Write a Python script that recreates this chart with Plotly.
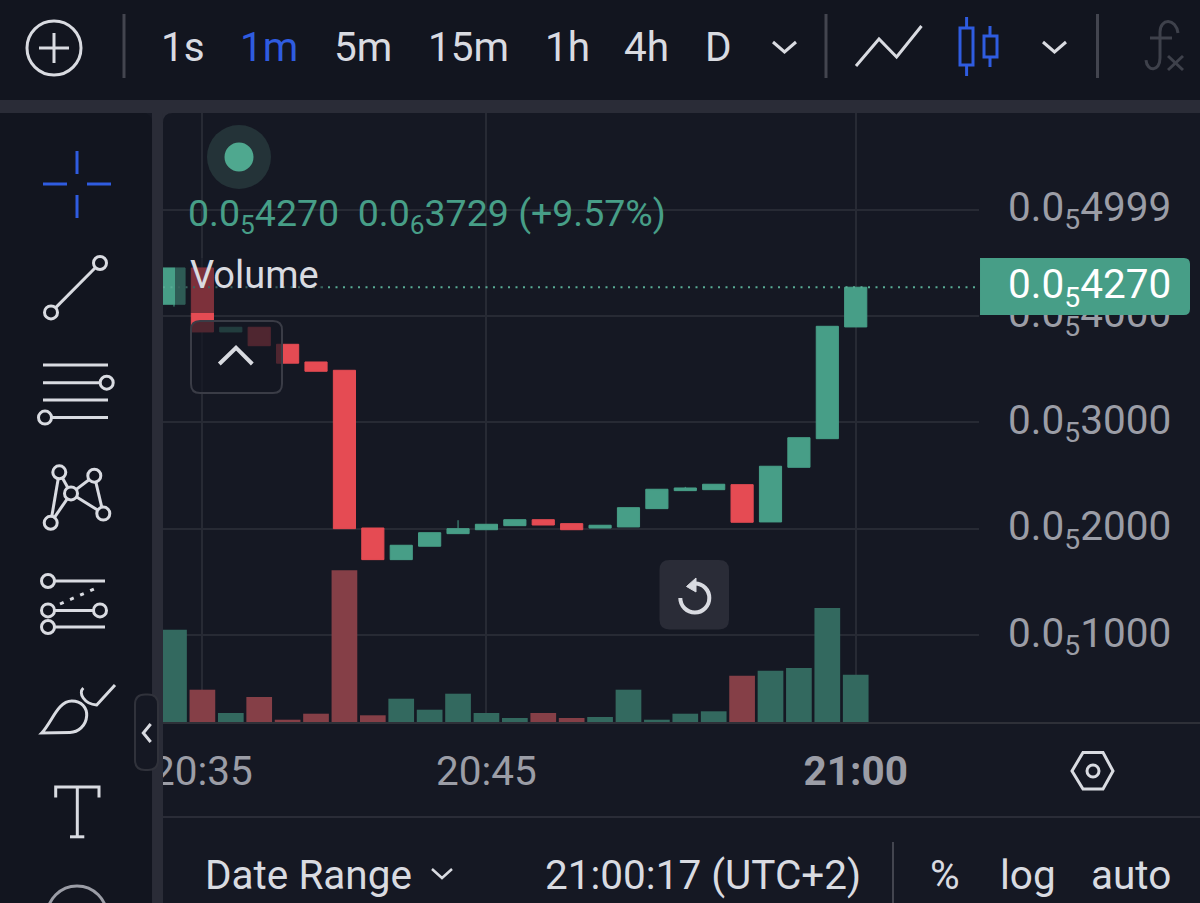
import plotly.graph_objects as go

# ---- data ----
bar_index = list(range(25))
opens  = [4110,4451,3850,3894,3734,3568,3490,2009,1712,1838,1956,1993,2031,2087,2050,2009,2019,2191,2360,2369,2416,2066,2579,2848,3897]
highs  = [4451,4451,3894,3894,3734,3568,3490,2009,1847,1965,2082,2044,2087,2087,2050,2035,2200,2373,2395,2420,2416,2589,2857,3903,4270]
lows   = [4088,3850,3850,3721,3557,3481,2003,1712,1712,1838,1956,1993,2031,2037,1993,2009,2019,2191,2360,2369,2063,2066,2579,2848,3897]
closes = [4451,3850,3894,3721,3557,3481,2003,1712,1847,1965,2003,2044,2087,2037,1993,2035,2200,2373,2385,2420,2063,2589,2857,3903,4270]
volumes = [93.3,33.3,10,26,3.3,9.3,152.7,7.7,24.3,13.3,29.3,10,5,10,5,6,33.3,3.3,9.3,11.7,47.3,52.3,55,115,48.3]
time_ticks = [1, 11, 24]
time_labels = ["20:35", "20:45", "<b>21:00</b>"]
price_ticks = [1000, 2000, 3000, 4000, 4999]
price_labels = ["0.0<sub>5</sub>1000", "0.0<sub>5</sub>2000", "0.0<sub>5</sub>3000", "0.0<sub>5</sub>4000", "0.0<sub>5</sub>4999"]
toolbar_items = [("1s",183),("1m",269),("5m",363),("15m",468),("1h",567),("4h",646),("D",718)]

# ---- style ----
W, H = 1200, 903
PANEL = "#151823"; BAR = "#12151f"; GAP = "#2a2c37"; GRID = "#272a34"
GREEN = "#479e87"; RED = "#e54b53"; VGREEN = "#33695f"; VRED = "#853f47"
TEXT = "#d9dbe1"; MUTED = "#9b9da6"; BLUE = "#2f5ce0"; SEP = "#43454f"; FONT = "Roboto"
FS = 40.5
X_RANGE = [-0.387, 28.34]

def px(x): return x / W
def py(y): return 1 - y / H
shapes, annotations = [], []

def path(points, color=TEXT, width=3, close=False, fill=None):
    d = "M" + " L".join(f"{px(x):.5f},{py(y):.5f}" for x, y in points) + (" Z" if close else "")
    shapes.append(dict(type="path", path=d, xref="paper", yref="paper", layer="above",
                       line=dict(color=color, width=width), fillcolor=fill or "rgba(0,0,0,0)"))

def curve(d_tokens, color=TEXT, width=3, fill=None):
    out = []
    for tok in d_tokens:
        if isinstance(tok, str):
            out.append(tok)
        else:
            out.append(f"{px(tok[0]):.5f},{py(tok[1]):.5f}")
    shapes.append(dict(type="path", path=" ".join(out), xref="paper", yref="paper", layer="above",
                       line=dict(color=color, width=width), fillcolor=fill or "rgba(0,0,0,0)"))

def rect(x0, y0, x1, y1, fill, line=None, width=0):
    shapes.append(dict(type="rect", xref="paper", yref="paper", layer="above", x0=px(x0), x1=px(x1),
                       y0=py(y1), y1=py(y0), fillcolor=fill, line=dict(color=line or fill, width=width)))

def rrect(x0, y0, x1, y1, r, fill, line=None, width=0):
    curve(["M", (x0 + r, y0), "L", (x1 - r, y0), "Q", (x1, y0), (x1, y0 + r), "L", (x1, y1 - r), "Q", (x1, y1), (x1 - r, y1),
           "L", (x0 + r, y1), "Q", (x0, y1), (x0, y1 - r), "L", (x0, y0 + r), "Q", (x0, y0), (x0 + r, y0), "Z"],
          color=line or "rgba(0,0,0,0)", width=width, fill=fill)

def circle(cx, cy, r, color=TEXT, width=3, fill=None):
    shapes.append(dict(type="circle", xref="paper", yref="paper", layer="above", x0=px(cx - r), x1=px(cx + r),
                       y0=py(cy + r), y1=py(cy - r), line=dict(color=color, width=width),
                       fillcolor=fill or "rgba(0,0,0,0)"))

def text(s, x, y, size=FS, color=TEXT, anchor="center"):
    annotations.append(dict(text=s, x=px(x), y=py(y), xref="paper", yref="paper", showarrow=False,
                            xanchor=anchor, yanchor="middle", font=dict(family=FONT, size=size, color=color)))

def node(cx, cy, r=6.5):
    circle(cx, cy, r, fill=BAR)

# ---- chart overlays ----
rect(175, 258, 322, 313, "rgba(21,24,35,0.5)")
rrect(191, 321, 282, 393, 9, "rgba(21,24,35,0.72)", "#3a3c46", 2)
path([(219.3, 364), (236, 347.7), (252.3, 364)], width=4)
rrect(659.5, 560, 729, 629.5, 10, GAP)
curve(["M", (695, 583.5), "C", (703, 583.5), (709.3, 590), (709.3, 598), "C", (709.3, 606), (703, 612.5), (694.8, 612.5),
       "C", (686.8, 612.5), (680.3, 606), (680.3, 598)], width=4)
path([(686.5, 586.5), (696, 578), (696, 592)], color=TEXT, width=1, close=True, fill=TEXT)
circle(239, 157, 32, color="#243338", width=0, fill="#243338")
circle(239, 157, 14.5, color=GREEN, width=0, fill="#4fa88f")
text("0.0<sub>5</sub>4270  0.0<sub>6</sub>3729 (+9.57%)", 185.5, 215, 37.5, GREEN, "left")
text("Volume", 187.5, 275, 38, TEXT, "left")

# ---- last price tag ----
curve(["M", (980, 258), "L", (1184, 258), "Q", (1190, 258), (1190, 264), "L", (1190, 309), "Q", (1190, 315), (1184, 315),
       "L", (980, 315), "Z"], color=GREEN, width=0, fill=GREEN)
text(f"0.0<sub>5</sub>{closes[-1]}", 1172.5, 287, FS, "#ffffff", "right")

# ---- chrome: top bar ----
rect(0, 0, 1200, 100, BAR)
rect(0, 100, 1200, 113, GAP)
circle(54, 48, 27, width=3)
path([(39, 48), (69, 48)]); path([(54, 33), (54, 63)])
for sx in (124, 826, 1097.5):
    path([(sx, 14), (sx, 78)], color=SEP)
for label, cx in toolbar_items:
    text(label, cx, 47, FS, BLUE if label == "1m" else TEXT)
path([(773, 42), (784.5, 52), (796, 42)])
path([(856, 66), (879, 39), (896.6, 57), (921.5, 26)], width=3)
path([(966.6, 17), (966.6, 28)], color=BLUE); path([(966.6, 65), (966.6, 76)], color=BLUE)
rect(960, 28, 973, 65, "rgba(0,0,0,0)", BLUE, 3)
path([(990, 26), (990, 36)], color=BLUE); path([(990, 57), (990, 67)], color=BLUE)
rect(984, 36, 997, 57, "rgba(0,0,0,0)", BLUE, 3)
path([(1043, 42), (1054.5, 52), (1066, 42)])
curve(["M", (1178, 33), "C", (1176, 18), (1160, 18), (1160, 32), "L", (1160, 58), "C", (1160, 72), (1147, 72), (1146, 60)], color="#3e414b")
path([(1150, 38), (1172, 38)], color="#3e414b")
path([(1168, 56), (1183, 70)], color="#3e414b"); path([(1183, 56), (1168, 70)], color="#3e414b")

# ---- chrome: left tool panel ----
rect(152, 113, 163, 903, GAP)
curve(["M", (0, 113), "L", (142, 113), "Q", (152, 113), (152, 123), "L", (152, 903), "L", (0, 903), "Z"], color=BAR, width=0, fill=BAR)
curve(["M", (163, 113), "L", (173, 113), "Q", (163, 113), (163, 123), "Z"], color=GAP, width=0, fill=GAP)
path([(77, 151), (77, 174)], color=BLUE); path([(77, 195), (77, 218)], color=BLUE)
path([(43, 184), (67, 184)], color=BLUE); path([(87, 184), (111, 184)], color=BLUE)
path([(51, 312.4), (100, 263)]); node(100, 263); node(51, 312.4)
for yy, x0 in ((365, 43), (382.7, 43), (400, 43), (417.6, 45)):
    path([(x0, yy), (108 if yy != 382.7 else 100, yy)])
node(106.7, 382.7); node(45, 417.6)
c1, c2, c3, c4, c5 = (59.3, 472.3), (94.3, 475.7), (71, 493.4), (103.3, 513.6), (50.7, 522.8)
for a, b in ((c5, c1), (c1, c3), (c3, c5), (c3, c2), (c2, c4), (c3, c4)):
    path([a, b])
for c in (c1, c2, c3, c4, c5):
    node(*c)
path([(48, 581), (105, 581)]); path([(48, 610.4), (100, 610.4)]); path([(48, 627), (105, 627)])
shapes.append(dict(type="line", xref="paper", yref="paper", layer="above", x0=px(60), y0=py(604), x1=px(100), y1=py(586.4),
                   line=dict(color=TEXT, width=3, dash="4px,7px")))
node(48, 581); node(48, 610.4); node(100, 610.4); node(48, 627)
curve(["M", (41.7, 733), "C", (52, 722), (58, 701), (71.7, 701), "C", (82, 701), (87, 708), (86.7, 715.6),
       "C", (86, 726), (78, 732.4), (70, 732.4), "Z"])
curve(["M", (83.3, 688), "C", (78, 693), (84, 704), (96.7, 705), "L", (115, 685)])
path([(55.7, 797.6), (55.7, 787), (99, 787), (99, 797.6)])
path([(77.3, 787), (77.3, 836.8)]); path([(70, 836.8), (84.3, 836.8)])
circle(77, 916, 30, color=MUTED)
rrect(135, 694.5, 158, 770, 10, PANEL, "#30323b", 2)
path([(150.7, 724), (143.3, 733), (150.7, 742)])

# ---- chrome: bottom ----
rect(163, 722, 1200, 724, "#2e3038")
rect(163, 816, 1200, 818, GAP)
path([(1083, 752.5), (1103, 752.5), (1113, 771), (1103, 789), (1083, 789), (1072, 771)], close=True)
circle(1093, 771, 6)
path([(432, 869), (442, 878), (452, 869)], width=2.5)
path([(893, 842), (893, 903)], color=SEP, width=2)
text("Date Range", 203, 875, FS, TEXT, "left")
text("21:00:17 (UTC+2)", 543, 875, FS, TEXT, "left")
text("%", 944.5, 875, FS, TEXT)
text("log", 1028, 875, FS, TEXT)
text("auto", 1131, 875, FS, TEXT)

# ---- traces ----
fig = go.Figure()
fig.add_trace(go.Candlestick(
    x=bar_index, open=opens, high=highs, low=lows, close=closes,
    increasing=dict(line=dict(color=GREEN, width=1), fillcolor=GREEN),
    decreasing=dict(line=dict(color=RED, width=1), fillcolor=RED),
    whiskerwidth=0, yaxis="y", hoverinfo="skip"))
fig.add_trace(go.Bar(
    x=bar_index, y=volumes, yaxis="y2",
    marker=dict(color=[VGREEN if c >= o else VRED for o, c in zip(opens, closes)], line=dict(width=0)),
    hoverinfo="skip"))
# last price dotted line
fig.add_shape(type="line", xref="x", yref="y", x0=X_RANGE[0], x1=X_RANGE[1], y0=closes[-1], y1=closes[-1],
              layer="above", line=dict(color="#58ab95", width=2, dash="2px,5.5px"))
for s in shapes:
    fig.add_shape(**s)

fig.update_layout(
    width=W, height=H, margin=dict(l=0, r=0, t=0, b=0, autoexpand=False),
    paper_bgcolor=PANEL, plot_bgcolor=PANEL, showlegend=False, hovermode=False, dragmode=False,
    boxgap=0.22, boxgroupgap=0, bargap=0.095, annotations=annotations,
    xaxis=dict(domain=[px(163), px(979)], range=X_RANGE, tickmode="array", tickvals=time_ticks, ticktext=time_labels,
               automargin=False, showgrid=True, gridcolor=GRID, gridwidth=2, zeroline=False, showline=False, ticks="",
               ticklabelstandoff=20, tickfont=dict(family=FONT, size=FS, color=MUTED), rangeslider=dict(visible=False)),
    yaxis=dict(domain=[py(723), py(113)], range=[178, 5906], side="right", tickmode="array", tickvals=price_ticks,
               automargin=False, ticktext=price_labels, showgrid=True, gridcolor=GRID, gridwidth=2, zeroline=False, showline=False, ticks="",
               ticklabelstandoff=28, ticklabelshift=-3, tickfont=dict(family=FONT, size=FS, color=MUTED)),
    yaxis2=dict(domain=[py(723), py(113)], range=[0, 610], overlaying="y", side="left", visible=False),
)
fig.write_html("out.html", config={"displayModeBar": False},
               post_script="document.documentElement.style.margin='0';document.body.style.margin='0';document.body.style.overflow='hidden';"
                           "var g=document.getElementById('{plot_id}');g.style.position='fixed';g.style.left='0';g.style.top='0';")
